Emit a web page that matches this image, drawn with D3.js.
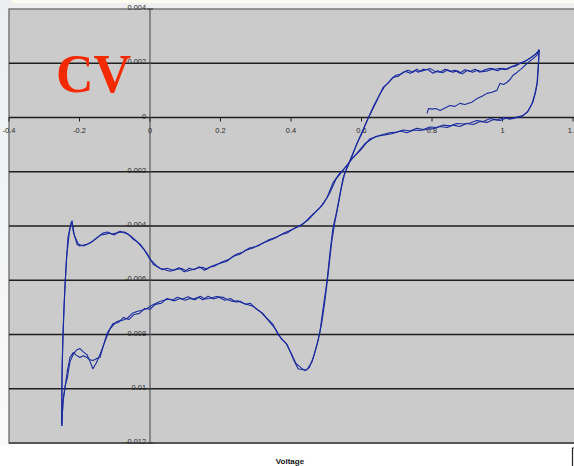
<!DOCTYPE html>
<html>
<head>
<meta charset="utf-8">
<script src="https://cdn.jsdelivr.net/npm/d3@7"></script>
<style>
  body { margin: 0; background: #fff; }
  svg { display: block; }
</style>
</head>
<body>
<script>
// tick values + labels
const xTicks = [-0.4, -0.2, 0, 0.2, 0.4, 0.6, 0.8, 1, 1.2];
const xTickLabels = ["-0.4", "-0.2", "0", "0.2", "0.4", "0.6", "0.8", "1", "1.2"];
const yTicks = [0.004, 0.002, 0, -0.002, -0.004, -0.006, -0.008, -0.01, -0.012];
const yTickLabels = ["0.004", "0.002", "0", "-0.002", "-0.004", "-0.006", "-0.008", "-0.01", "-0.012"];

// [voltage, current]
const startScan = [[0.786,0.00015],[0.790,0.00033],[0.800,0.00031],[0.811,0.00033],[0.823,0.00026],[0.837,0.00035],[0.851,0.00044],[0.865,0.00041],[0.879,0.00052],[0.893,0.00048],[0.913,0.00056],[0.920,0.00063],[0.928,0.0007],[0.942,0.00078],[0.956,0.00089],[0.970,0.00093],[0.984,0.001],[0.993,0.00126],[1.003,0.00122],[1.013,0.0013],[1.022,0.00141],[1.030,0.00156],[1.042,0.00167],[1.055,0.00181],[1.070,0.002],[1.085,0.00215],[1.098,0.0023],[1.104,0.0025]];

const cathodic1 = [[1.104,0.00246],[1.101,0.00185],[1.098,0.00126],[1.092,0.00089],[1.084,0.00052],[1.070,0.00019],[1.055,0.00004],[1.030,-0.00004],[1.012,-0.00002],[0.993,-0.00011],[0.975,-0.00007],[0.956,-0.00018],[0.936,-0.00015],[0.917,-0.00026],[0.898,-0.00022],[0.879,-0.00033],[0.860,-0.00028],[0.843,-0.00037],[0.823,-0.00033],[0.803,-0.00041],[0.785,-0.00044],[0.766,-0.00048],[0.748,-0.00046],[0.729,-0.00056],[0.710,-0.0005],[0.689,-0.00059],[0.670,-0.00063],[0.652,-0.00067],[0.624,-0.00078],[0.596,-0.00122],[0.573,-0.00152],[0.559,-0.00178],[0.539,-0.00204],[0.519,-0.00241],[0.502,-0.00296],[0.482,-0.00333],[0.462,-0.00356],[0.434,-0.00393],[0.411,-0.00407],[0.389,-0.00426],[0.370,-0.00433],[0.349,-0.00448],[0.321,-0.00463],[0.292,-0.00481],[0.272,-0.00489],[0.255,-0.00504],[0.236,-0.00511],[0.218,-0.0053],[0.190,-0.00541],[0.175,-0.00548],[0.162,-0.00559],[0.148,-0.00552],[0.133,-0.00556],[0.118,-0.00561],[0.105,-0.00567],[0.090,-0.00557],[0.077,-0.00559],[0.057,-0.00567],[0.040,-0.0056],[0.028,-0.00556],[0.009,-0.00541],[-0.009,-0.005],[-0.028,-0.00467],[-0.048,-0.00448],[-0.062,-0.0043],[-0.085,-0.00419],[-0.096,-0.00426],[-0.108,-0.0043],[-0.120,-0.00422],[-0.133,-0.00426],[-0.148,-0.00441],[-0.162,-0.00456],[-0.179,-0.00467],[-0.199,-0.00474],[-0.207,-0.00467],[-0.218,-0.00419],[-0.221,-0.00381],[-0.226,-0.0040],[-0.233,-0.00444],[-0.241,-0.00615],[-0.247,-0.008],[-0.250,-0.00985],[-0.250,-0.01137]];

const anodic1 = [[-0.250,-0.01137],[-0.247,-0.01048],[-0.241,-0.0099],[-0.235,-0.00963],[-0.227,-0.009],[-0.218,-0.00874],[-0.209,-0.00858],[-0.199,-0.00852],[-0.190,-0.00863],[-0.179,-0.00874],[-0.170,-0.009],[-0.162,-0.00926],[-0.152,-0.00904],[-0.142,-0.00874],[-0.128,-0.00826],[-0.113,-0.00778],[-0.094,-0.00752],[-0.080,-0.00748],[-0.065,-0.00741],[-0.050,-0.00722],[-0.037,-0.00715],[-0.020,-0.0071],[-0.009,-0.00704],[0.010,-0.00689],[0.028,-0.00678],[0.045,-0.00672],[0.057,-0.0067],[0.070,-0.00676],[0.085,-0.00667],[0.100,-0.00674],[0.113,-0.00667],[0.128,-0.00672],[0.142,-0.00659],[0.156,-0.00669],[0.170,-0.00667],[0.188,-0.0066],[0.207,-0.00663],[0.220,-0.00672],[0.235,-0.00678],[0.250,-0.00676],[0.264,-0.00685],[0.278,-0.0069],[0.292,-0.00696],[0.312,-0.00715],[0.332,-0.00741],[0.349,-0.00763],[0.363,-0.008],[0.378,-0.00822],[0.389,-0.00837],[0.406,-0.00889],[0.420,-0.00926],[0.433,-0.0093],[0.445,-0.0093],[0.460,-0.009],[0.474,-0.00837],[0.482,-0.00789],[0.491,-0.00704],[0.502,-0.00604],[0.511,-0.00493],[0.519,-0.00407],[0.530,-0.00344],[0.539,-0.00281],[0.548,-0.00222],[0.559,-0.00185],[0.573,-0.00141],[0.587,-0.00096],[0.601,-0.00059],[0.616,-0.00011],[0.630,0.00026],[0.644,0.00063],[0.661,0.00111],[0.675,0.00126],[0.689,0.00148],[0.704,0.00152],[0.718,0.00167],[0.732,0.00174],[0.746,0.00167],[0.757,0.00178],[0.766,0.0017],[0.780,0.00174],[0.794,0.00181],[0.808,0.0017],[0.823,0.00167],[0.837,0.00178],[0.851,0.0017],[0.865,0.00174],[0.879,0.00163],[0.893,0.00176],[0.908,0.0017],[0.922,0.00178],[0.936,0.00167],[0.950,0.00176],[0.965,0.00181],[0.980,0.00178],[0.993,0.00181],[1.007,0.00176],[1.021,0.00185],[1.036,0.00189],[1.050,0.002],[1.064,0.00207],[1.078,0.00219],[1.090,0.0023],[1.101,0.00241],[1.104,0.00248]];

const cathodic2 = [[1.104,0.0025],[1.102,0.0019],[1.099,0.0013],[1.094,0.00094],[1.086,0.00056],[1.073,0.00024],[1.058,0.00007],[1.040,0.00002],[1.021,-0.00006],[1.003,0.0],[0.984,-0.00009],[0.965,-0.00004],[0.946,-0.00015],[0.927,-0.00011],[0.908,-0.0002],[0.889,-0.00024],[0.870,-0.00022],[0.851,-0.00031],[0.832,-0.00028],[0.813,-0.00037],[0.794,-0.00035],[0.775,-0.00044],[0.757,-0.0004],[0.738,-0.0005],[0.719,-0.00046],[0.700,-0.00054],[0.680,-0.00056],[0.661,-0.00063],[0.640,-0.0007],[0.610,-0.00096],[0.585,-0.00135],[0.566,-0.00163],[0.548,-0.00194],[0.528,-0.00226],[0.510,-0.00278],[0.492,-0.00318],[0.470,-0.00348],[0.448,-0.00378],[0.425,-0.004],[0.400,-0.00415],[0.380,-0.00426],[0.360,-0.00441],[0.335,-0.00452],[0.306,-0.00474],[0.282,-0.00481],[0.264,-0.00496],[0.245,-0.00504],[0.226,-0.00522],[0.204,-0.00533],[0.182,-0.00548],[0.168,-0.00552],[0.155,-0.00563],[0.140,-0.0055],[0.125,-0.00561],[0.111,-0.00556],[0.097,-0.00569],[0.083,-0.00554],[0.066,-0.00563],[0.048,-0.00556],[0.034,-0.00561],[0.018,-0.00546],[0.0,-0.00522],[-0.018,-0.00485],[-0.038,-0.00456],[-0.055,-0.00437],[-0.072,-0.00422],[-0.090,-0.00424],[-0.102,-0.00433],[-0.114,-0.00426],[-0.126,-0.0043],[-0.140,-0.00433],[-0.155,-0.00448],[-0.170,-0.00463],[-0.188,-0.00474],[-0.203,-0.00467],[-0.214,-0.00437],[-0.220,-0.00393],[-0.223,-0.00385],[-0.229,-0.00426],[-0.237,-0.0052],[-0.244,-0.007],[-0.249,-0.009],[-0.251,-0.0113]];

const anodic2 = [[-0.251,-0.0113],[-0.246,-0.0104],[-0.241,-0.00996],[-0.234,-0.0093],[-0.227,-0.00885],[-0.218,-0.00867],[-0.209,-0.00876],[-0.199,-0.00885],[-0.189,-0.00878],[-0.179,-0.00885],[-0.170,-0.00893],[-0.162,-0.00896],[-0.152,-0.00889],[-0.142,-0.00885],[-0.132,-0.00841],[-0.122,-0.00796],[-0.105,-0.0076],[-0.090,-0.00756],[-0.075,-0.00737],[-0.060,-0.00745],[-0.045,-0.00726],[-0.030,-0.00722],[-0.015,-0.00704],[0.0,-0.00707],[0.015,-0.00689],[0.032,-0.00685],[0.048,-0.00667],[0.063,-0.00674],[0.078,-0.00663],[0.093,-0.00669],[0.108,-0.00661],[0.122,-0.00669],[0.137,-0.00663],[0.150,-0.00672],[0.165,-0.00659],[0.180,-0.00669],[0.196,-0.00663],[0.212,-0.00674],[0.228,-0.00667],[0.243,-0.0068],[0.257,-0.00678],[0.271,-0.00689],[0.285,-0.00685],[0.300,-0.00704],[0.320,-0.00722],[0.338,-0.00752],[0.355,-0.00778],[0.372,-0.00815],[0.386,-0.00833],[0.400,-0.00867],[0.414,-0.00907],[0.428,-0.00922],[0.440,-0.00933],[0.452,-0.00922],[0.465,-0.00878],[0.478,-0.00815],[0.487,-0.0076],[0.496,-0.00678],[0.506,-0.0057],[0.515,-0.00463],[0.524,-0.00389],[0.534,-0.00322],[0.543,-0.00259],[0.552,-0.00207],[0.563,-0.00174],[0.578,-0.00126],[0.592,-0.00081],[0.606,-0.0004],[0.621,0.00004],[0.635,0.00044],[0.650,0.00081],[0.666,0.00115],[0.682,0.00137],[0.697,0.00156],[0.711,0.00159],[0.725,0.0017],[0.739,0.00163],[0.752,0.00174],[0.761,0.00167],[0.775,0.00178],[0.789,0.00176],[0.803,0.00163],[0.816,0.00172],[0.830,0.00165],[0.844,0.00176],[0.858,0.00167],[0.872,0.00172],[0.886,0.00161],[0.900,0.00174],[0.915,0.00167],[0.929,0.00174],[0.943,0.00169],[0.958,0.00172],[0.972,0.00178],[0.986,0.00172],[1.000,0.00181],[1.014,0.00178],[1.028,0.00189],[1.043,0.00196],[1.057,0.00204],[1.071,0.00213],[1.084,0.00224],[1.095,0.00235],[1.104,0.0025]];

const traces = [startScan, cathodic1, anodic1, cathodic2, anodic2];

const width = 574,
  height = 466,
  plotLeft = 9,
  plotTop = 9,
  plotBottom = 443,
  lineColor = "#1b2b9e",
  labelFont = "Liberation Sans, Arial, sans-serif";

const x = d3.scaleLinear().domain([-0.4, 1.2]).range([plotLeft, 573]);
const y = d3.scaleLinear().domain([-0.012, 0.004]).range([plotBottom, plotTop]);

const svg = d3
  .select("body")
  .append("svg")
  .attr("width", width)
  .attr("height", height);

// slide-ish background around the plot
const grad = svg.append("defs").append("linearGradient")
  .attr("id", "leftfade").attr("x1", 0).attr("y1", 0).attr("x2", 0).attr("y2", 1);
grad.append("stop").attr("offset", "0").attr("stop-color", "#eceef0");
grad.append("stop").attr("offset", "1").attr("stop-color", "#fafafa");
svg.append("rect").attr("width", width).attr("height", height).attr("fill", "#fff");
svg.append("rect").attr("x", 0).attr("y", 0).attr("width", width).attr("height", plotTop)
  .attr("fill", "#efeff0");
svg.append("rect").attr("x", 12).attr("y", 0).attr("width", width).attr("height", 3)
  .attr("fill", "#fdfcf1");
svg.append("rect").attr("x", 0).attr("y", 0).attr("width", plotLeft).attr("height", plotBottom + 3)
  .attr("fill", "url(#leftfade)");

// plot area
svg.append("rect")
  .attr("x", plotLeft).attr("y", plotTop)
  .attr("width", width - plotLeft + 2).attr("height", plotBottom - plotTop)
  .attr("fill", "#cbcbcb")
  .attr("stroke", "#7a7a7a")
  .attr("stroke-width", 1.5);

// horizontal gridlines
svg.append("g")
  .selectAll("line")
  .data(yTicks.filter((d) => d < 0.004 && d > -0.012))
  .join("line")
  .attr("x1", plotLeft).attr("x2", width)
  .attr("y1", (d) => y(d)).attr("y2", (d) => y(d))
  .attr("stroke", "#1e1e1e")
  .attr("stroke-width", 1.3);

// bottom border a little darker
svg.append("line")
  .attr("x1", plotLeft).attr("x2", width)
  .attr("y1", plotBottom).attr("y2", plotBottom)
  .attr("stroke", "#555").attr("stroke-width", 2);

// y axis at x = 0
svg.append("line")
  .attr("x1", x(0)).attr("x2", x(0))
  .attr("y1", plotTop).attr("y2", plotBottom)
  .attr("stroke", "#5a5a5a").attr("stroke-width", 1.2);

svg.append("g")
  .selectAll("line")
  .data(yTicks)
  .join("line")
  .attr("x1", x(0) - 3).attr("x2", x(0) + 3)
  .attr("y1", (d) => y(d)).attr("y2", (d) => y(d))
  .attr("stroke", "#333");

svg.append("g")
  .selectAll("text")
  .data(yTicks)
  .join("text")
  .attr("x", x(0) - 4)
  .attr("y", (d) => y(d) + 1)
  .attr("text-anchor", "end")
  .attr("font-family", labelFont)
  .attr("font-size", 7.4)
  .attr("fill", "#2a2a2a")
  .text((d, i) => yTickLabels[i]);

// x axis ticks + labels on the zero line
svg.append("g")
  .selectAll("line")
  .data(xTicks)
  .join("line")
  .attr("x1", (d) => x(d)).attr("x2", (d) => x(d))
  .attr("y1", y(0)).attr("y2", y(0) + 4)
  .attr("stroke", "#222");

svg.append("g")
  .selectAll("text")
  .data(xTicks)
  .join("text")
  .attr("x", (d) => x(d))
  .attr("y", y(0) + 15)
  .attr("text-anchor", "middle")
  .attr("font-family", labelFont)
  .attr("font-size", 7.4)
  .attr("fill", "#2a2a2a")
  .text((d, i) => xTickLabels[i]);

// the CV traces
const line = d3.line()
  .x((d) => x(d[0]))
  .y((d) => y(d[1]));

svg.append("g")
  .attr("fill", "none")
  .attr("stroke", lineColor)
  .attr("stroke-width", 1.1)
  .attr("stroke-linejoin", "round")
  .selectAll("path")
  .data(traces)
  .join("path")
  .attr("d", line);

// big red label
svg.append("text")
  .attr("x", 56)
  .attr("y", 92)
  .attr("font-family", "Liberation Serif, Times New Roman, serif")
  .attr("font-weight", "bold")
  .attr("font-size", 55)
  .attr("fill", "#f52a00")
  .attr("textLength", 75)
  .attr("lengthAdjust", "spacingAndGlyphs")
  .text("CV");

// axis title
svg.append("text")
  .attr("x", 290)
  .attr("y", 464)
  .attr("text-anchor", "middle")
  .attr("font-family", labelFont)
  .attr("font-weight", "bold")
  .attr("font-size", 8)
  .attr("fill", "#111")
  .text("Voltage");

// edge of a box cut off at the bottom right
svg.append("path")
  .attr("d", `M${width - 1.5},${height} V448 H${width + 5}`)
  .attr("fill", "none")
  .attr("stroke", "#222")
  .attr("stroke-width", 1.2);
</script>
</body>
</html>
